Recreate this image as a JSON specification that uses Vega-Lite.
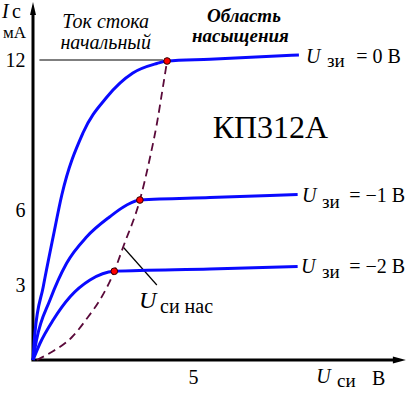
{
  "$schema": "https://vega.github.io/schema/vega-lite/v6.json",
  "width": 385,
  "height": 360,
  "autosize": {"type": "none"},
  "padding": {"left": 33, "top": 0, "right": 0, "bottom": 35},
  "background": "white",
  "config": {"view": {"stroke": null}},
  "datasets": {
    "curves": [
      {"s": "0", "x": 0, "y": 0}, {"s": "0", "x": 0.06, "y": 1.08}, {"s": "0", "x": 0.32, "y": 2.93}, {"s": "0", "x": 0.63, "y": 4.93}, {"s": "0", "x": 0.9, "y": 6.6}, {"s": "0", "x": 1.56, "y": 9.08}, {"s": "0", "x": 2.31, "y": 10.52}, {"s": "0", "x": 3.12, "y": 11.48}, {"s": "0", "x": 3.87, "y": 11.86}, {"s": "0", "x": 4.19, "y": 11.96}, {"s": "0", "x": 5.53, "y": 12.03}, {"s": "0", "x": 8.31, "y": 12.2},
      {"s": "-1", "x": 0, "y": 0}, {"s": "-1", "x": 0.11, "y": 0.8}, {"s": "-1", "x": 0.53, "y": 2.4}, {"s": "-1", "x": 1.05, "y": 3.87}, {"s": "-1", "x": 1.68, "y": 4.93}, {"s": "-1", "x": 2.4, "y": 5.73}, {"s": "-1", "x": 2.93, "y": 6.2}, {"s": "-1", "x": 3.34, "y": 6.4}, {"s": "-1", "x": 5.53, "y": 6.5}, {"s": "-1", "x": 8.27, "y": 6.62},
      {"s": "-2", "x": 0, "y": 0}, {"s": "-2", "x": 0.22, "y": 0.67}, {"s": "-2", "x": 0.63, "y": 1.6}, {"s": "-2", "x": 1.16, "y": 2.53}, {"s": "-2", "x": 1.78, "y": 3.2}, {"s": "-2", "x": 2.54, "y": 3.55}, {"s": "-2", "x": 5.53, "y": 3.64}, {"s": "-2", "x": 8.27, "y": 3.74}
    ],
    "dashed": [
      {"x": 0.12, "y": 0}, {"x": 0.53, "y": 0.28}, {"x": 1.22, "y": 0.92}, {"x": 1.72, "y": 1.72}, {"x": 2.09, "y": 2.4}, {"x": 2.54, "y": 3.55}, {"x": 2.82, "y": 4.53}, {"x": 3.34, "y": 6.4}, {"x": 3.66, "y": 8.12}, {"x": 3.875, "y": 9.48}, {"x": 4.06, "y": 10.92}, {"x": 4.19, "y": 11.96}
    ],
    "sat": [
      {"x": 4.19, "y": 11.96}, {"x": 3.34, "y": 6.4}, {"x": 2.54, "y": 3.55}
    ],
    "thinrules": [
      {"x": 0.2, "y": 12, "x2": 4.06, "y2": 12},
      {"x": 2.83, "y": 4.5, "x2": 3.87, "y2": 3.0}
    ],
    "axisrules": [
      {"x": 0, "y": 0, "x2": 0, "y2": 13.9},
      {"x": -0.05, "y": 0, "x2": 11.27, "y2": 0}
    ]
  },
  "layer": [
    {
      "data": {"name": "axisrules"},
      "mark": {"type": "rule", "color": "black", "strokeWidth": 3},
      "encoding": {
        "x": {"field": "x", "type": "quantitative", "scale": {"domain": [0, 12.03125], "nice": false, "zero": false},
              "axis": {"values": [5], "domain": false, "ticks": false, "grid": false, "title": null, "labelFont": "Liberation Serif", "labelFontSize": 20, "labelColor": "black", "labelPadding": 7}},
        "y": {"field": "y", "type": "quantitative", "scale": {"domain": [0, 14.4], "nice": false, "zero": false},
              "axis": {"values": [3, 6, 12], "domain": false, "ticks": false, "grid": false, "title": null, "labelFont": "Liberation Serif", "labelFontSize": 20, "labelColor": "black", "labelPadding": 8}},
        "x2": {"field": "x2"},
        "y2": {"field": "y2"}
      }
    },
    {
      "data": {"values": [{"x": 0, "y": 14.06, "d": "up"}]},
      "mark": {"type": "point", "shape": "M0,-1L0.46,1L-0.46,1Z", "size": 169, "filled": true, "color": "black", "opacity": 1},
      "encoding": {"x": {"field": "x", "type": "quantitative"}, "y": {"field": "y", "type": "quantitative"}}
    },
    {
      "data": {"values": [{"x": 11.45, "y": 0, "d": "right"}]},
      "mark": {"type": "point", "shape": "M1,0L-1,-0.54L-1,0.54Z", "size": 169, "filled": true, "color": "black", "opacity": 1},
      "encoding": {"x": {"field": "x", "type": "quantitative"}, "y": {"field": "y", "type": "quantitative"}}
    },
    {
      "data": {"name": "thinrules"},
      "mark": {"type": "rule", "color": "black", "strokeWidth": 1.2},
      "encoding": {
        "x": {"field": "x", "type": "quantitative"}, "y": {"field": "y", "type": "quantitative"},
        "x2": {"field": "x2"}, "y2": {"field": "y2"}
      }
    },
    {
      "data": {"name": "dashed"},
      "mark": {"type": "line", "color": "#5a0a3a", "strokeWidth": 1.8, "strokeDash": [8, 5], "interpolate": "monotone"},
      "encoding": {"x": {"field": "x", "type": "quantitative"}, "y": {"field": "y", "type": "quantitative"}}
    },
    {
      "data": {"name": "curves"},
      "mark": {"type": "line", "color": "#0a0aff", "strokeWidth": 3, "interpolate": "monotone"},
      "encoding": {
        "x": {"field": "x", "type": "quantitative"}, "y": {"field": "y", "type": "quantitative"},
        "detail": {"field": "s", "type": "nominal"}
      }
    },
    {
      "data": {"name": "sat"},
      "mark": {"type": "point", "shape": "circle", "size": 45, "filled": true, "fill": "#ff0000", "stroke": "#300000", "strokeWidth": 1, "opacity": 1},
      "encoding": {"x": {"field": "x", "type": "quantitative"}, "y": {"field": "y", "type": "quantitative"}}
    },
    {
      "data": {"values": [
        {"t": "I", "x": -0.97, "y": 13.67},
        {"t": "U", "x": 8.53, "y": 11.87},
        {"t": "U", "x": 8.41, "y": 6.33},
        {"t": "U", "x": 8.375, "y": 3.48},
        {"t": "U", "x": 8.85, "y": -0.93}
      ]},
      "mark": {"type": "text", "font": "Liberation Serif", "fontStyle": "italic", "fontSize": 20, "align": "left", "baseline": "alphabetic", "color": "black"},
      "encoding": {"x": {"field": "x", "type": "quantitative"}, "y": {"field": "y", "type": "quantitative"}, "text": {"field": "t"}}
    },
    {
      "data": {"values": [{"t": "U", "x": 3.31, "y": 2.07}]},
      "mark": {"type": "text", "font": "Liberation Serif", "fontStyle": "italic", "fontSize": 24, "align": "left", "baseline": "alphabetic", "color": "black"},
      "encoding": {"x": {"field": "x", "type": "quantitative"}, "y": {"field": "y", "type": "quantitative"}, "text": {"field": "t"}}
    },
    {
      "data": {"values": [
        {"t": "с", "x": -0.66, "y": 13.67},
        {"t": "= 0 В", "x": 10.1, "y": 11.87},
        {"t": "= −1 В", "x": 9.88, "y": 6.33},
        {"t": "= −2 В", "x": 9.88, "y": 3.48},
        {"t": "В", "x": 10.59, "y": -1.0},
        {"t": "си нас", "x": 3.97, "y": 1.88}
      ]},
      "mark": {"type": "text", "font": "Liberation Serif", "fontSize": 20, "align": "left", "baseline": "alphabetic", "color": "black"},
      "encoding": {"x": {"field": "x", "type": "quantitative"}, "y": {"field": "y", "type": "quantitative"}, "text": {"field": "t"}}
    },
    {
      "data": {"values": [
        {"t": "зи", "x": 9.19, "y": 11.72},
        {"t": "зи", "x": 9.03, "y": 6.07},
        {"t": "зи", "x": 9.03, "y": 3.27},
        {"t": "си", "x": 9.5, "y": -1.07}
      ]},
      "mark": {"type": "text", "font": "Liberation Serif", "fontSize": 19, "align": "left", "baseline": "alphabetic", "color": "black"},
      "encoding": {"x": {"field": "x", "type": "quantitative"}, "y": {"field": "y", "type": "quantitative"}, "text": {"field": "t"}}
    },
    {
      "data": {"values": [{"t": "мА", "x": -0.94, "y": 12.87}]},
      "mark": {"type": "text", "font": "Liberation Serif", "fontSize": 17, "align": "left", "baseline": "alphabetic", "color": "black"},
      "encoding": {"x": {"field": "x", "type": "quantitative"}, "y": {"field": "y", "type": "quantitative"}, "text": {"field": "t"}}
    },
    {
      "data": {"values": [{"t": "КП312А", "x": 7.42, "y": 8.87}]},
      "mark": {"type": "text", "font": "Liberation Serif", "fontSize": 32, "align": "center", "baseline": "alphabetic", "color": "black"},
      "encoding": {"x": {"field": "x", "type": "quantitative"}, "y": {"field": "y", "type": "quantitative"}, "text": {"field": "t"}}
    },
    {
      "data": {"values": [
        {"t": "Ток стока", "x": 2.27, "y": 13.27},
        {"t": "начальный", "x": 2.27, "y": 12.46}
      ]},
      "mark": {"type": "text", "font": "Liberation Serif", "fontStyle": "italic", "fontSize": 20, "align": "center", "baseline": "alphabetic", "color": "black"},
      "encoding": {"x": {"field": "x", "type": "quantitative"}, "y": {"field": "y", "type": "quantitative"}, "text": {"field": "t"}}
    },
    {
      "data": {"values": [
        {"t": "Область", "x": 6.59, "y": 13.53},
        {"t": "насыщения", "x": 6.48, "y": 12.74}
      ]},
      "mark": {"type": "text", "font": "Liberation Serif", "fontStyle": "italic", "fontWeight": "bold", "fontSize": 19, "align": "center", "baseline": "alphabetic", "color": "black"},
      "encoding": {"x": {"field": "x", "type": "quantitative"}, "y": {"field": "y", "type": "quantitative"}, "text": {"field": "t"}}
    }
  ]
}
